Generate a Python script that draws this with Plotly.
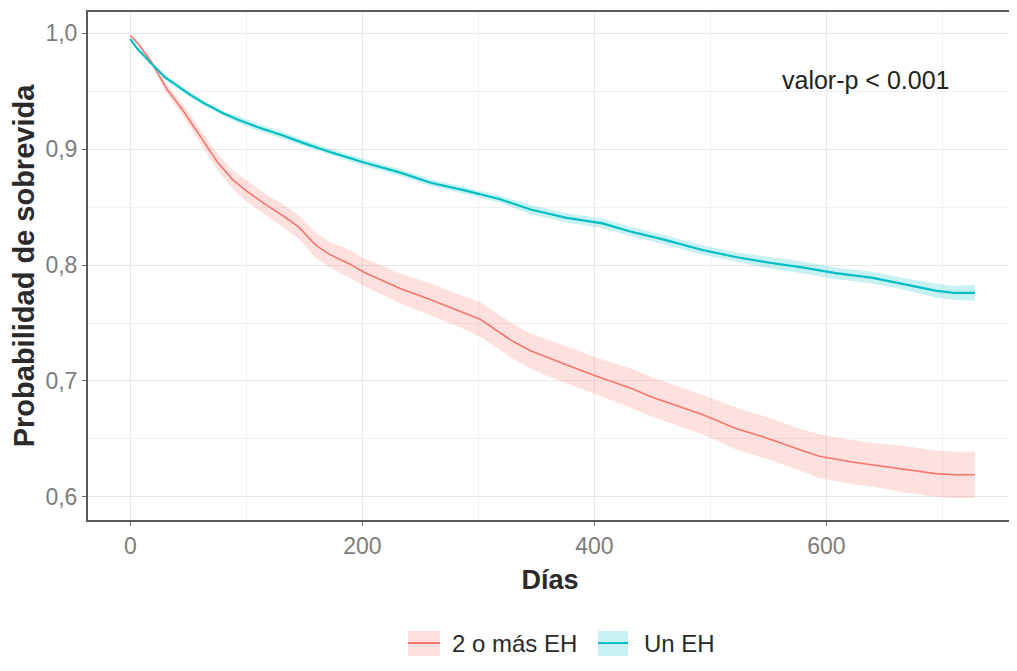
import plotly.graph_objects as go

# ---------------- data ----------------
days_2 = [0, 6, 17, 32, 45, 60, 75, 88, 100, 117,
          131, 145, 160, 172, 189, 201, 232, 259, 280, 302,
          318, 330, 345, 360, 373, 402, 431, 450, 470, 493,
          522, 551, 579, 594, 622, 645, 666, 694, 710, 728]
surv_2 = [0.998, 0.992, 0.977, 0.951, 0.934, 0.912, 0.889, 0.874, 0.864, 0.852,
          0.843, 0.833, 0.817, 0.809, 0.801, 0.794, 0.780, 0.770, 0.762, 0.753,
          0.742, 0.734, 0.726, 0.720, 0.715, 0.704, 0.694, 0.686, 0.679, 0.671,
          0.659, 0.650, 0.640, 0.635, 0.630, 0.627, 0.624, 0.620, 0.619, 0.619]
hw_2 = [0.000, 0.001, 0.002, 0.004, 0.005, 0.006, 0.007, 0.008, 0.009, 0.009,
        0.010, 0.010, 0.011, 0.011, 0.012, 0.012, 0.013, 0.014, 0.014, 0.015,
        0.015, 0.015, 0.015, 0.016, 0.016, 0.016, 0.017, 0.017, 0.017, 0.017,
        0.018, 0.018, 0.018, 0.019, 0.019, 0.019, 0.020, 0.020, 0.020, 0.020]

days_1 = [0, 5, 17, 30, 40, 50, 63, 80, 94, 110,
          131, 150, 174, 200, 232, 259, 290, 318, 345, 375,
          407, 431, 460, 493, 522, 551, 579, 608, 640, 666,
          694, 710, 728]
surv_1 = [0.995, 0.988, 0.975, 0.962, 0.955, 0.948, 0.940, 0.931, 0.925, 0.919,
          0.912, 0.905, 0.897, 0.889, 0.880, 0.871, 0.864, 0.857, 0.848, 0.841,
          0.836, 0.829, 0.822, 0.813, 0.807, 0.802, 0.798, 0.793, 0.789, 0.784,
          0.778, 0.776, 0.776]
hw_1 = [0.000, 0.001, 0.001, 0.002, 0.002, 0.002, 0.002, 0.002, 0.003, 0.003,
        0.003, 0.003, 0.003, 0.003, 0.003, 0.003, 0.003, 0.003, 0.004, 0.004,
        0.004, 0.004, 0.004, 0.004, 0.004, 0.005, 0.005, 0.005, 0.005, 0.005,
        0.006, 0.006, 0.007]

series_names = ["2 o más EH", "Un EH"]
line_colors = ["#F8766D", "#00BFC4"]
band_colors = ["rgba(248,118,109,0.22)", "rgba(0,191,196,0.22)"]

x_tickvals = [0, 200, 400, 600]
x_ticktext = ["0", "200", "400", "600"]
y_tickvals = [0.6, 0.7, 0.8, 0.9, 1.0]
y_ticktext = ["0,6", "0,7", "0,8", "0,9", "1,0"]

p_text = "valor-p < 0.001"

FONT = "Liberation Sans, Arial, sans-serif"

fig = go.Figure()

groups = [(days_2, surv_2, hw_2), (days_1, surv_1, hw_1)]
for (d, s, h), name, lc, bc in zip(groups, series_names, line_colors, band_colors):
    upper = [a + b for a, b in zip(s, h)]
    lower = [a - b for a, b in zip(s, h)]
    fig.add_trace(go.Scatter(x=d, y=upper, mode="lines", line=dict(width=0, color=bc),
                             showlegend=False, hoverinfo="skip"))
    fig.add_trace(go.Scatter(x=d, y=lower, mode="lines", line=dict(width=0, color=bc),
                             fill="tonexty", fillcolor=bc, showlegend=False, hoverinfo="skip"))
for (d, s, h), name, lc in zip(groups, series_names, line_colors):
    fig.add_trace(go.Scatter(x=d, y=s, mode="lines", name=name,
                             line=dict(color=lc, width=2.2 if name == "Un EH" else 1.6),
                             showlegend=False))

axis_common = dict(
    showline=True, linecolor="#5a5a5a", linewidth=2, mirror=True,
    ticks="outside", ticklen=4, tickcolor="#6a6a6a", tickwidth=1,
    showgrid=True, gridcolor="#E8E8E8", gridwidth=1,
    zeroline=False,
    tickfont=dict(family=FONT, size=23, color="#7d7d7d"),
)

fig.update_xaxes(
    range=[-36.5, 760], tickmode="array", tickvals=x_tickvals, ticktext=x_ticktext,
    minor=dict(tickvals=[100, 300, 500, 700], showgrid=True, gridcolor="#F1F1F1", ticks=""),
    title=dict(text="Días", font=dict(family=FONT, size=27, color="#2a2a2a", weight="bold"),
               standoff=13),
    **axis_common,
)
fig.update_yaxes(
    range=[0.580, 1.0184], tickmode="array", tickvals=y_tickvals, ticktext=y_ticktext,
    minor=dict(tickvals=[0.65, 0.75, 0.85, 0.95], showgrid=True, gridcolor="#F1F1F1", ticks=""),
    title=dict(text="Probabilidad de sobrevida",
               font=dict(family=FONT, size=29, color="#2a2a2a", weight="bold"), standoff=5),
    **axis_common,
)

fig.add_annotation(x=634, y=0.960, xref="x", yref="y", text=p_text, showarrow=False,
                   font=dict(family=FONT, size=25, color="#222222"))

# manual ggplot-style legend (keys + labels), positions in page pixels -> paper
legend_keys = [(408, 440, 450), (598, 628, 642)]
for (x0, x1, tx), name, lc, bc in zip(legend_keys, series_names, line_colors, band_colors):
    fig.add_shape(type="rect", xref="paper", yref="paper",
                  x0=(x0 - 88) / 924, x1=(x1 - 88) / 924,
                  y0=(520 - 656) / 508, y1=(520 - 631) / 508,
                  fillcolor=bc, line=dict(width=0))
    fig.add_shape(type="line", xref="paper", yref="paper",
                  x0=(x0 - 88) / 924, x1=(x1 - 88) / 924,
                  y0=(520 - 643) / 508, y1=(520 - 643) / 508,
                  line=dict(color=lc, width=2))
    fig.add_annotation(xref="paper", yref="paper", x=(tx - 88) / 924, y=(520 - 643) / 508,
                       xanchor="left", yanchor="middle", text=name, showarrow=False,
                       font=dict(family=FONT, size=24, color="#2a2a2a"))

# page has an 8px body margin, so the figure is 8px smaller than the window
fig.update_layout(
    width=1009, height=663,
    margin=dict(l=80, r=5, t=4, b=151, autoexpand=False),
    paper_bgcolor="white", plot_bgcolor="white",
    showlegend=False,
)

fig.write_html("out.html")
